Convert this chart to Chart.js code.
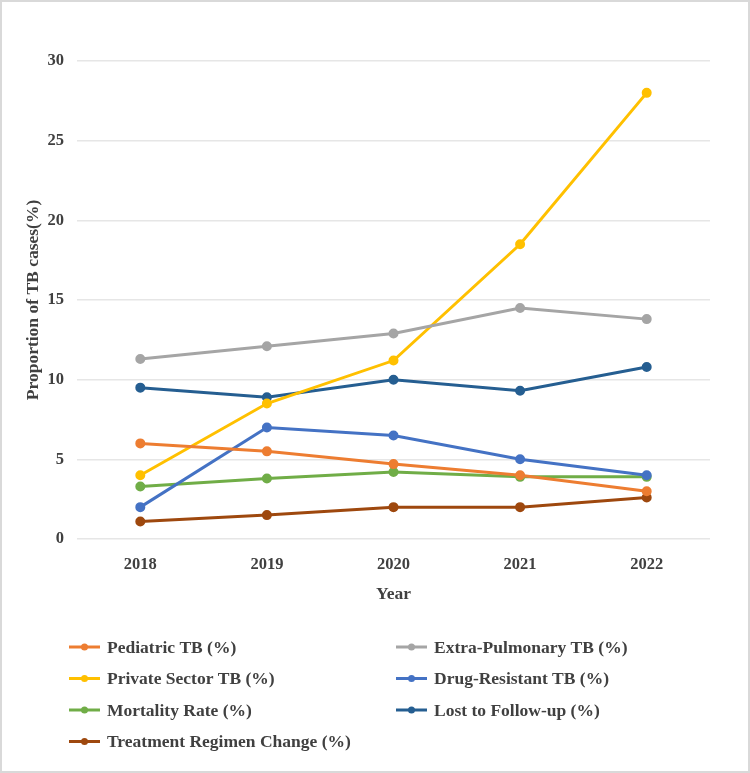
<!DOCTYPE html>
<html>
<head>
<meta charset="utf-8">
<script src="https://cdn.jsdelivr.net/npm/chart.js@4/dist/chart.umd.min.js"></script>
<style>
  html, body { margin: 0; padding: 0; background: #fff; }
  #wrap { width: 750px; height: 773px; position: relative; }
</style>
</head>
<body>
<div id="wrap"><canvas id="tb-chart" width="750" height="773"></canvas></div>
<script>
const years = ["2018", "2019", "2020", "2021", "2022"];
const yTicks = [0, 5, 10, 15, 20, 25, 30];

const pediatric = [6.0, 5.5, 4.7, 4.0, 3.0];
const extraPulmonary = [11.3, 12.1, 12.9, 14.5, 13.8];
const privateSector = [4.0, 8.5, 11.2, 18.5, 28.0];
const drugResistant = [2.0, 7.0, 6.5, 5.0, 4.0];
const mortality = [3.3, 3.8, 4.2, 3.9, 3.9];
const lostFollowUp = [9.5, 8.9, 10.0, 9.3, 10.8];
const regimenChange = [1.1, 1.5, 2.0, 2.0, 2.6];

const FONT = "'Liberation Serif', 'Times New Roman', serif";
const TEXT_COLOR = "#404040";
const LEGEND_COLUMNS = [69, 396];
const LEGEND_TOP = 647;
const LEGEND_ROW_GAP = 31.5;

function series(label, data, color) {
  return {
    label,
    data,
    borderColor: color,
    backgroundColor: color,
    borderWidth: 3,
    pointRadius: 3.5,
    pointHoverRadius: 4.5,
    tension: 0
  };
}

const datasets = [
  series("Pediatric TB (%)", pediatric, "#ED7D31"),
  series("Extra-Pulmonary TB (%)", extraPulmonary, "#A5A5A5"),
  series("Private Sector TB (%)", privateSector, "#FFC000"),
  series("Drug-Resistant TB (%)", drugResistant, "#4472C4"),
  series("Mortality Rate (%)", mortality, "#70AD47"),
  series("Lost to Follow-up (%)", lostFollowUp, "#255E91"),
  series("Treatment Regimen Change (%)", regimenChange, "#9E480E")
];

// two-column legend under the x axis, plus the thin frame round the picture
const gridLegendPlugin = {
  id: "gridLegend",
  afterDraw(chart) {
    const ctx = chart.ctx;
    ctx.save();
    ctx.font = `bold 17.5px ${FONT}`;
    ctx.textBaseline = "middle";
    ctx.textAlign = "left";
    chart.data.datasets.forEach((ds, i) => {
      const x = LEGEND_COLUMNS[i % 2];
      const y = LEGEND_TOP + Math.floor(i / 2) * LEGEND_ROW_GAP;
      ctx.strokeStyle = ds.borderColor;
      ctx.fillStyle = ds.borderColor;
      ctx.lineWidth = 3;
      ctx.beginPath();
      ctx.moveTo(x, y);
      ctx.lineTo(x + 31, y);
      ctx.stroke();
      ctx.beginPath();
      ctx.arc(x + 15.5, y, 3.5, 0, Math.PI * 2);
      ctx.fill();
      ctx.fillStyle = TEXT_COLOR;
      ctx.fillText(ds.label, x + 38, y + 1);
    });
    ctx.strokeStyle = "#d9d9d9";
    ctx.lineWidth = 2;
    ctx.strokeRect(1, 1, chart.width - 2, chart.height - 2);
    ctx.restore();
  }
};

new Chart(document.querySelector("#tb-chart"), {
  type: "line",
  plugins: [gridLegendPlugin],
  data: { labels: years, datasets },
  options: {
    responsive: false,
    animation: false,
    layout: { padding: { left: 18, right: 40, top: 61, bottom: 164 } },
    plugins: {
      legend: { display: false },
      tooltip: { enabled: false }
    },
    scales: {
      x: {
        offset: true,
        grid: { display: false, drawTicks: false, offset: true },
        border: { display: false },
        ticks: {
          color: TEXT_COLOR,
          padding: 16,
          font: { family: FONT, size: 16.5, weight: "bold" }
        },
        title: {
          display: true,
          text: "Year",
          color: TEXT_COLOR,
          padding: { top: 19 },
          font: { family: FONT, size: 17.5, weight: "bold" }
        },
        afterFit(scale) { scale.height = 70; }
      },
      y: {
        min: 0,
        max: 30,
        afterBuildTicks(scale) { scale.ticks = yTicks.map((v) => ({ value: v })); },
        grid: { color: "#e6e6e6", lineWidth: 1.5, drawTicks: false },
        border: { display: false },
        ticks: {
          color: TEXT_COLOR,
          padding: 13,
          font: { family: FONT, size: 16.5, weight: "bold" }
        },
        title: {
          display: true,
          text: "Proportion of TB cases(%)",
          color: TEXT_COLOR,
          padding: 5,
          font: { family: FONT, size: 17.5, weight: "bold" }
        },
        afterFit(scale) { scale.width = 59; }
      }
    }
  }
});
</script>
</body>
</html>
